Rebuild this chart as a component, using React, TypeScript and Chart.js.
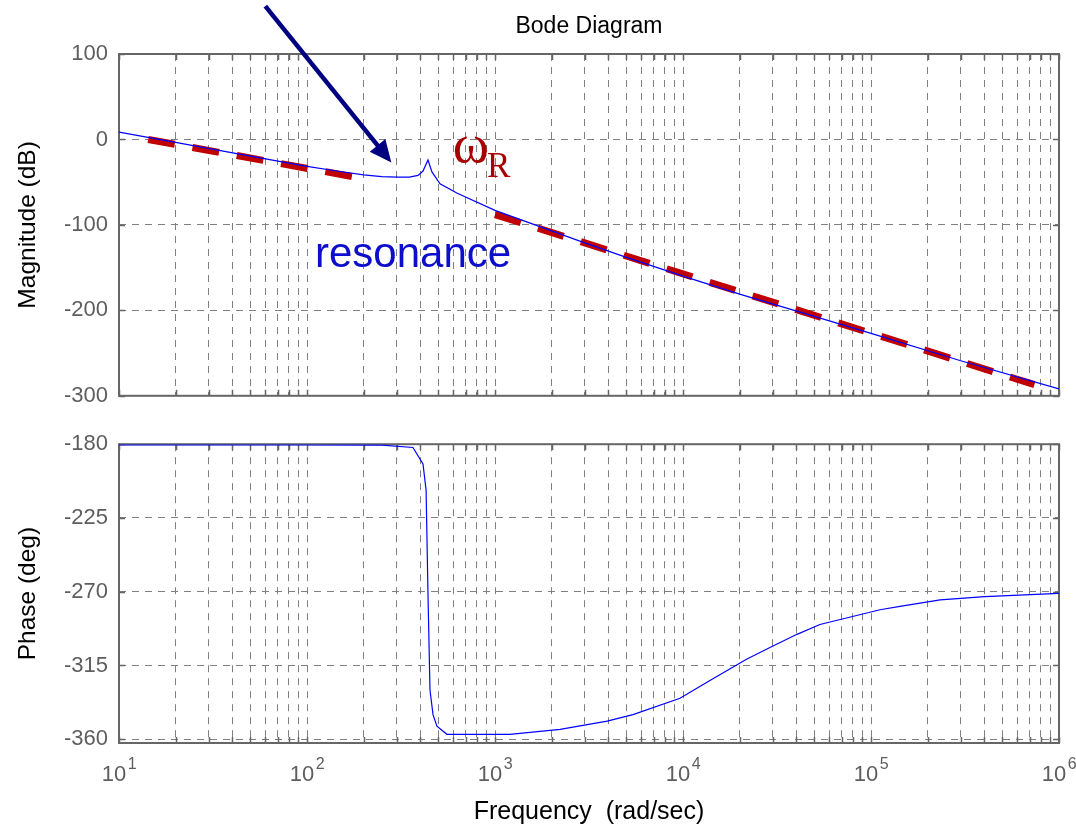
import React, { useEffect, useRef } from 'react';
import { Chart, registerables } from 'chart.js';

Chart.register(...registerables);

// ---------- data ----------
const magFreq = [10, 20, 50, 100, 150, 200, 250, 300, 350, 390, 414, 440, 462, 510, 630, 1000, 2000, 3000, 5000, 10000, 20000, 50000, 100000, 300000, 1000000];
const magDb = [8.5, -3.5, -19.5, -31.5, -37.5, -41.5, -43.5, -44.2, -44, -42, -37, -24, -38, -52, -63, -83, -107, -121, -138, -160, -181, -207, -227, -259, -292];

const phaseFreq = [10, 100, 250, 366, 414, 430, 440, 451, 468, 491, 555, 834, 1200, 2220, 3950, 5420, 9640, 14500, 21900, 29000, 40400, 53500, 111700, 142600, 233000, 403000, 1000000];
const phaseDeg = [-180.5, -180.5, -180.6, -182, -192, -208, -271, -330, -345, -352, -357, -357, -357, -354, -349, -345, -335, -323, -311, -304, -296, -290, -281, -279, -275, -273, -271];

const asymLowFreq = [14.3, 185];
const asymLowDb = [0, -44.5];
const asymHighFreq = [1000, 740000];
const asymHighDb = [-88, -287];

const freqDecades = [10, 100, 1000, 10000, 100000, 1000000];
const freqTickBase = '10';
const freqTickExponents = ['1', '2', '3', '4', '5', '6'];
const gridMultipliers = [1, 2, 3, 4, 5, 6, 7, 8, 9];
const magTicks = [-300, -200, -100, 0, 100];
const phaseTicks = [-360, -315, -270, -225, -180];

// annotations (data coordinates)
const arrowFrom = { f: 60, db: 156 };
const arrowTo = { f: 281, db: -27 };
const omegaAt = { f: 596, db: -26.9 };
const omegaSubAt = { f: 906, db: -44 };
const resonanceAt = { f: 110.3, db: -149 };

// ---------- styles ----------
const FONT = "'Liberation Sans', Arial, Helvetica, sans-serif";
const SERIF = "'Liberation Serif', 'Times New Roman', serif";
const GRID = '#808080';
const TICK = '#5e5e5e';
const FRAME = '#666666';
const TICK_SIZE = 22;
const X_LABEL_OFFSET = -5;

const freqGridValues: number[] = [];
freqDecades.slice(0, -1).forEach((d) => gridMultipliers.forEach((m) => freqGridValues.push(d * m)));
freqGridValues.push(freqDecades[freqDecades.length - 1]);

const toXY = (xs: number[], ys: number[]) => xs.map((x, i) => ({ x, y: ys[i] }));
const decadeIndex = (v: number) => freqDecades.findIndex((d) => Math.abs(d - v) < d * 1e-9);

const framePlugin = {
  id: 'frame',
  beforeDatasetsDraw(chart: any) {
    const { ctx, chartArea: a, scales } = chart;
    ctx.save();
    ctx.strokeStyle = FRAME;
    ctx.lineWidth = 1.5;
    ctx.beginPath();
    scales.x.ticks.forEach((t: any) => {
      const x = Math.round(scales.x.getPixelForValue(t.value)) + 0.5;
      ctx.moveTo(x, a.bottom);
      ctx.lineTo(x, a.bottom - 6);
      ctx.moveTo(x, a.top);
      ctx.lineTo(x, a.top + 6);
    });
    scales.y.ticks.forEach((t: any) => {
      const y = Math.round(scales.y.getPixelForValue(t.value)) + 0.5;
      ctx.moveTo(a.left, y);
      ctx.lineTo(a.left + 6, y);
      ctx.moveTo(a.right, y);
      ctx.lineTo(a.right - 6, y);
    });
    ctx.stroke();
    ctx.lineWidth = 2;
    ctx.strokeRect(a.left, a.top, a.right - a.left, a.bottom - a.top);
    ctx.restore();
  },
};

const exponentPlugin = {
  id: 'exponents',
  afterDraw(chart: any) {
    const { ctx, scales } = chart;
    const xs = scales.x;
    ctx.save();
    ctx.font = `${TICK_SIZE}px ${FONT}`;
    const wBase = ctx.measureText(freqTickBase).width;
    ctx.font = `16px ${FONT}`;
    ctx.fillStyle = TICK;
    ctx.textAlign = 'left';
    ctx.textBaseline = 'alphabetic';
    const y = xs.top + 26;
    freqDecades.forEach((d, i) => {
      const x = xs.getPixelForValue(d) + X_LABEL_OFFSET + wBase / 2 + 1.5;
      ctx.fillText(freqTickExponents[i], x, y);
    });
    ctx.restore();
  },
};

const annotationPlugin = {
  id: 'annot',
  afterDraw(chart: any) {
    const { ctx, scales } = chart;
    const px = (f: number) => scales.x.getPixelForValue(f);
    const py = (d: number) => scales.y.getPixelForValue(d);
    ctx.save();
    const x1 = px(arrowFrom.f), y1 = py(arrowFrom.db);
    const x2 = px(arrowTo.f), y2 = py(arrowTo.db);
    const ang = Math.atan2(y2 - y1, x2 - x1);
    const headLen = 22, headW = 10;
    const bx = x2 - headLen * Math.cos(ang), by = y2 - headLen * Math.sin(ang);
    ctx.strokeStyle = '#000080';
    ctx.fillStyle = '#000080';
    ctx.lineWidth = 4.5;
    ctx.beginPath();
    ctx.moveTo(x1, y1);
    ctx.lineTo(bx + 2 * Math.cos(ang), by + 2 * Math.sin(ang));
    ctx.stroke();
    ctx.beginPath();
    ctx.moveTo(x2, y2);
    ctx.lineTo(bx + headW * Math.sin(ang), by - headW * Math.cos(ang));
    ctx.lineTo(bx - headW * Math.sin(ang), by + headW * Math.cos(ang));
    ctx.closePath();
    ctx.fill();
    ctx.fillStyle = '#a80000';
    ctx.textBaseline = 'alphabetic';
    ctx.textAlign = 'left';
    ctx.font = `55px ${SERIF}`;
    ctx.fillText('ω', px(omegaAt.f), py(omegaAt.db));
    ctx.font = `35px ${SERIF}`;
    ctx.fillText('R', px(omegaSubAt.f), py(omegaSubAt.db));
    ctx.fillStyle = '#0d0dcc';
    ctx.font = `42px ${FONT}`;
    ctx.fillText('resonance', px(resonanceAt.f), py(resonanceAt.db));
    ctx.restore();
  },
};

const xScale = (showLabels: boolean) => ({
  type: 'logarithmic',
  min: 10,
  max: 1000000,
  afterBuildTicks: (s: any) => {
    s.ticks = freqGridValues.map((v) => ({ value: v }));
  },
  afterFit: (s: any) => {
    s.height = showLabels ? 84 : 0;
    s.paddingLeft = 0;
    s.paddingRight = 0;
  },
  grid: { color: GRID, lineWidth: 1, drawTicks: false },
  border: { display: false, dash: [7, 6] },
  ticks: {
    display: showLabels,
    autoSkip: false,
    maxRotation: 0,
    minRotation: 0,
    padding: 19,
    labelOffset: X_LABEL_OFFSET,
    color: TICK,
    font: { family: FONT, size: TICK_SIZE },
    callback: (v: any) => (decadeIndex(Number(v)) >= 0 ? freqTickBase : ''),
  },
  title: showLabels
    ? { display: true, text: 'Frequency  (rad/sec)', color: '#000', font: { family: FONT, size: 25 }, padding: { top: 0, bottom: 0 } }
    : { display: false },
});

const yScale = (min: number, max: number, ticks: number[], title: string) => ({
  type: 'linear',
  min,
  max,
  afterBuildTicks: (s: any) => {
    s.ticks = ticks.map((v) => ({ value: v }));
  },
  afterFit: (s: any) => {
    s.width = 119;
  },
  grid: { color: GRID, lineWidth: 1, drawTicks: false },
  border: { display: false, dash: [7, 6] },
  ticks: {
    padding: 11,
    color: TICK,
    font: { family: FONT, size: TICK_SIZE },
    callback: (v: any) => String(v),
  },
  title: { display: true, text: title, color: '#000', font: { family: FONT, size: 24.5 }, padding: { top: 13.3, bottom: 0 } },
});

export default function App() {
  const magRef = useRef<HTMLCanvasElement>(null);
  const phRef = useRef<HTMLCanvasElement>(null);

  useEffect(() => {
    const magChart = new Chart(magRef.current as HTMLCanvasElement, {
      type: 'line',
      data: {
        datasets: [
          { data: toXY(magFreq, magDb), borderColor: '#0000ff', borderWidth: 1.2, pointRadius: 0, tension: 0 },
          {
            data: toXY(asymLowFreq, asymLowDb),
            borderColor: '#c00000',
            borderWidth: 7,
            borderDash: [27, 18],
            borderCapStyle: 'butt',
            pointRadius: 0,
          },
          {
            data: toXY(asymHighFreq, asymHighDb),
            borderColor: '#c00000',
            borderWidth: 7,
            borderDash: [27, 18],
            borderCapStyle: 'butt',
            pointRadius: 0,
          },
        ],
      } as any,
      options: {
        responsive: false,
        animation: false,
        parsing: false as any,
        layout: { padding: { left: 0, right: 17, top: 0, bottom: 16 } },
        plugins: {
          legend: { display: false },
          tooltip: { enabled: false },
          title: {
            display: true,
            fullSize: false,
            text: 'Bode Diagram',
            color: '#000',
            font: { family: FONT, size: 23, weight: 'normal' },
            padding: { top: 13, bottom: 13.4 },
          },
        },
        scales: {
          x: xScale(false) as any,
          y: yScale(-300, 100, magTicks, 'Magnitude (dB)') as any,
        },
      },
      plugins: [framePlugin, annotationPlugin],
    });

    const phChart = new Chart(phRef.current as HTMLCanvasElement, {
      type: 'line',
      data: {
        datasets: [{ data: toXY(phaseFreq, phaseDeg), borderColor: '#0000ff', borderWidth: 1.2, pointRadius: 0, tension: 0 }],
      } as any,
      options: {
        responsive: false,
        animation: false,
        parsing: false as any,
        layout: { padding: { left: 0, right: 17, top: 12, bottom: 0 } },
        plugins: { legend: { display: false }, tooltip: { enabled: false } },
        scales: {
          x: xScale(true) as any,
          y: yScale(-362.3, -180, phaseTicks, 'Phase (deg)') as any,
        },
      },
      plugins: [framePlugin, exponentPlugin],
    });

    return () => {
      magChart.destroy();
      phChart.destroy();
    };
  }, []);

  return (
    <div style={{ position: 'absolute', left: 0, top: 0, width: 1076, height: 827, background: '#fff', overflow: 'hidden' }}>
      <canvas ref={magRef} width={1076} height={420} style={{ position: 'absolute', left: 0, top: 0, width: 1076, height: 420 }} />
      <canvas ref={phRef} width={1076} height={407} style={{ position: 'absolute', left: 0, top: 420, width: 1076, height: 407 }} />
    </div>
  );
}
